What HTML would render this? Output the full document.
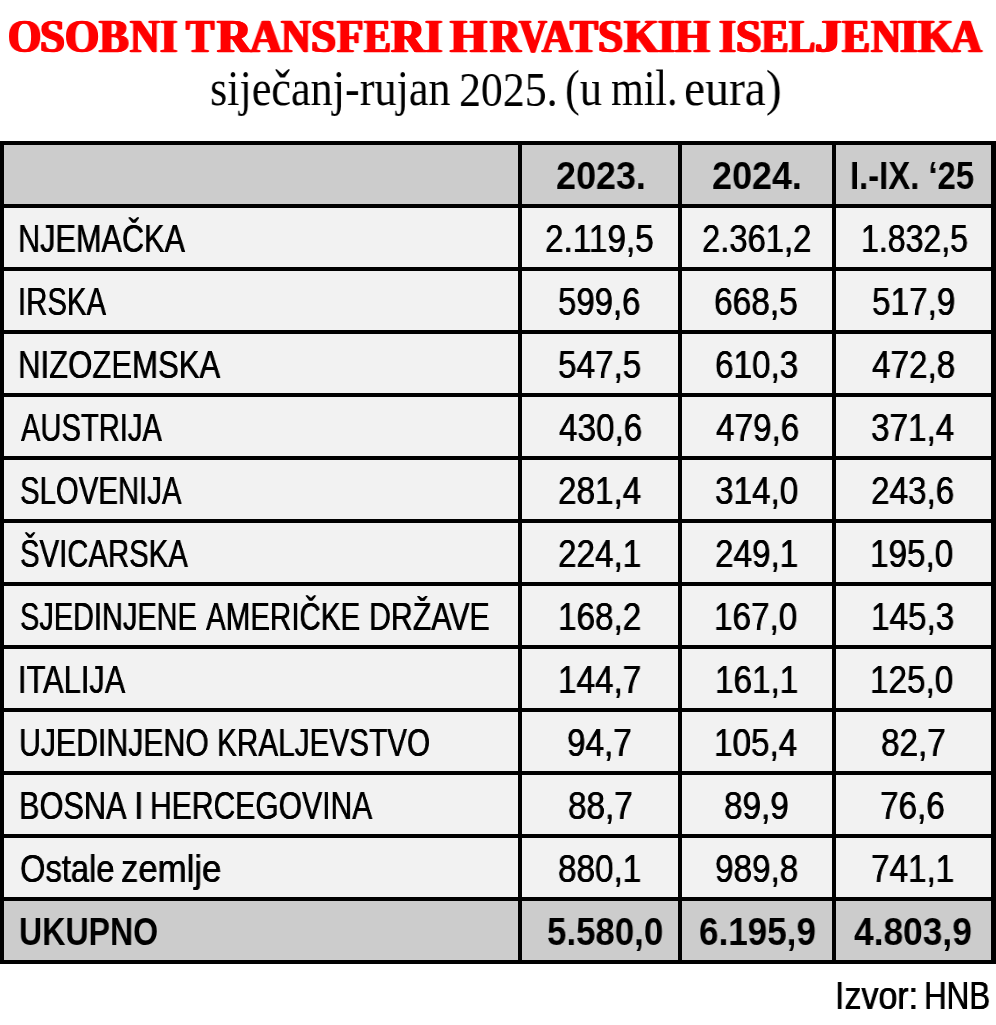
<!DOCTYPE html>
<html lang="hr"><head><meta charset="utf-8"><title>Osobni transferi hrvatskih iseljenika</title>
<style>
html,body{margin:0;padding:0;background:#fff;}
body{width:996px;height:1025px;position:relative;overflow:hidden;font-family:"Liberation Sans", sans-serif;}
.t{position:absolute;white-space:nowrap;transform-origin:0 0;display:block;margin:0;padding:0;will-change:transform;}
.c{position:absolute;}
#grid{position:absolute;left:0;top:141px;width:995.5px;height:823px;background:#000;}
</style></head><body>
<div id="grid"></div>
<div class="c" style="left:4px;top:145px;width:514px;height:59px;background:#cccccc"></div>
<div class="c" style="left:522px;top:145px;width:156px;height:59px;background:#cccccc"></div>
<div class="c" style="left:682px;top:145px;width:150px;height:59px;background:#cccccc"></div>
<div class="c" style="left:836px;top:145px;width:155px;height:59px;background:#cccccc"></div>
<div class="c" style="left:4px;top:208px;width:514px;height:59px;background:#f2f2f2"></div>
<div class="c" style="left:522px;top:208px;width:156px;height:59px;background:#f2f2f2"></div>
<div class="c" style="left:682px;top:208px;width:150px;height:59px;background:#f2f2f2"></div>
<div class="c" style="left:836px;top:208px;width:155px;height:59px;background:#f2f2f2"></div>
<div class="c" style="left:4px;top:271px;width:514px;height:59px;background:#f2f2f2"></div>
<div class="c" style="left:522px;top:271px;width:156px;height:59px;background:#f2f2f2"></div>
<div class="c" style="left:682px;top:271px;width:150px;height:59px;background:#f2f2f2"></div>
<div class="c" style="left:836px;top:271px;width:155px;height:59px;background:#f2f2f2"></div>
<div class="c" style="left:4px;top:334px;width:514px;height:59px;background:#f2f2f2"></div>
<div class="c" style="left:522px;top:334px;width:156px;height:59px;background:#f2f2f2"></div>
<div class="c" style="left:682px;top:334px;width:150px;height:59px;background:#f2f2f2"></div>
<div class="c" style="left:836px;top:334px;width:155px;height:59px;background:#f2f2f2"></div>
<div class="c" style="left:4px;top:397px;width:514px;height:59px;background:#f2f2f2"></div>
<div class="c" style="left:522px;top:397px;width:156px;height:59px;background:#f2f2f2"></div>
<div class="c" style="left:682px;top:397px;width:150px;height:59px;background:#f2f2f2"></div>
<div class="c" style="left:836px;top:397px;width:155px;height:59px;background:#f2f2f2"></div>
<div class="c" style="left:4px;top:460px;width:514px;height:59px;background:#f2f2f2"></div>
<div class="c" style="left:522px;top:460px;width:156px;height:59px;background:#f2f2f2"></div>
<div class="c" style="left:682px;top:460px;width:150px;height:59px;background:#f2f2f2"></div>
<div class="c" style="left:836px;top:460px;width:155px;height:59px;background:#f2f2f2"></div>
<div class="c" style="left:4px;top:523px;width:514px;height:59px;background:#f2f2f2"></div>
<div class="c" style="left:522px;top:523px;width:156px;height:59px;background:#f2f2f2"></div>
<div class="c" style="left:682px;top:523px;width:150px;height:59px;background:#f2f2f2"></div>
<div class="c" style="left:836px;top:523px;width:155px;height:59px;background:#f2f2f2"></div>
<div class="c" style="left:4px;top:586px;width:514px;height:59px;background:#f2f2f2"></div>
<div class="c" style="left:522px;top:586px;width:156px;height:59px;background:#f2f2f2"></div>
<div class="c" style="left:682px;top:586px;width:150px;height:59px;background:#f2f2f2"></div>
<div class="c" style="left:836px;top:586px;width:155px;height:59px;background:#f2f2f2"></div>
<div class="c" style="left:4px;top:649px;width:514px;height:59px;background:#f2f2f2"></div>
<div class="c" style="left:522px;top:649px;width:156px;height:59px;background:#f2f2f2"></div>
<div class="c" style="left:682px;top:649px;width:150px;height:59px;background:#f2f2f2"></div>
<div class="c" style="left:836px;top:649px;width:155px;height:59px;background:#f2f2f2"></div>
<div class="c" style="left:4px;top:712px;width:514px;height:59px;background:#f2f2f2"></div>
<div class="c" style="left:522px;top:712px;width:156px;height:59px;background:#f2f2f2"></div>
<div class="c" style="left:682px;top:712px;width:150px;height:59px;background:#f2f2f2"></div>
<div class="c" style="left:836px;top:712px;width:155px;height:59px;background:#f2f2f2"></div>
<div class="c" style="left:4px;top:775px;width:514px;height:59px;background:#f2f2f2"></div>
<div class="c" style="left:522px;top:775px;width:156px;height:59px;background:#f2f2f2"></div>
<div class="c" style="left:682px;top:775px;width:150px;height:59px;background:#f2f2f2"></div>
<div class="c" style="left:836px;top:775px;width:155px;height:59px;background:#f2f2f2"></div>
<div class="c" style="left:4px;top:838px;width:514px;height:59px;background:#f2f2f2"></div>
<div class="c" style="left:522px;top:838px;width:156px;height:59px;background:#f2f2f2"></div>
<div class="c" style="left:682px;top:838px;width:150px;height:59px;background:#f2f2f2"></div>
<div class="c" style="left:836px;top:838px;width:155px;height:59px;background:#f2f2f2"></div>
<div class="c" style="left:4px;top:901px;width:514px;height:59px;background:#cccccc"></div>
<div class="c" style="left:522px;top:901px;width:156px;height:59px;background:#cccccc"></div>
<div class="c" style="left:682px;top:901px;width:150px;height:59px;background:#cccccc"></div>
<div class="c" style="left:836px;top:901px;width:155px;height:59px;background:#cccccc"></div>
<div class="t" style="left:8.09px;top:14.16px;font-family:'Liberation Serif', serif;font-size:46.5px;line-height:46.5px;transform:scaleX(0.9197);color:#ff0000;font-weight:bold;-webkit-text-stroke:0.5px #ff0000;text-shadow:1.25px 0 0 #ff0000,-1.25px 0 0 #ff0000;">O</div>
<div class="t" style="left:40.23px;top:14.16px;font-family:'Liberation Serif', serif;font-size:46.5px;line-height:46.5px;transform:scaleX(0.9607);color:#ff0000;font-weight:bold;-webkit-text-stroke:0.5px #ff0000;text-shadow:1.25px 0 0 #ff0000,-1.25px 0 0 #ff0000;">S</div>
<div class="t" style="left:65.07px;top:14.16px;font-family:'Liberation Serif', serif;font-size:46.5px;line-height:46.5px;transform:scaleX(0.9412);color:#ff0000;font-weight:bold;-webkit-text-stroke:0.5px #ff0000;text-shadow:1.25px 0 0 #ff0000,-1.25px 0 0 #ff0000;">O</div>
<div class="t" style="left:99.31px;top:14.16px;font-family:'Liberation Serif', serif;font-size:46.5px;line-height:46.5px;transform:scaleX(0.9574);color:#ff0000;font-weight:bold;-webkit-text-stroke:0.5px #ff0000;text-shadow:1.25px 0 0 #ff0000,-1.25px 0 0 #ff0000;">B</div>
<div class="t" style="left:130.27px;top:14.16px;font-family:'Liberation Serif', serif;font-size:46.5px;line-height:46.5px;transform:scaleX(0.8808);color:#ff0000;font-weight:bold;-webkit-text-stroke:0.5px #ff0000;text-shadow:1.25px 0 0 #ff0000,-1.25px 0 0 #ff0000;">N</div>
<div class="t" style="left:159.65px;top:14.16px;font-family:'Liberation Serif', serif;font-size:46.5px;line-height:46.5px;transform:scaleX(0.9656);color:#ff0000;font-weight:bold;-webkit-text-stroke:0.5px #ff0000;text-shadow:1.25px 0 0 #ff0000,-1.25px 0 0 #ff0000;">I</div>
<div class="t" style="left:185.81px;top:14.16px;font-family:'Liberation Serif', serif;font-size:46.5px;line-height:46.5px;transform:scaleX(0.9105);color:#ff0000;font-weight:bold;-webkit-text-stroke:0.5px #ff0000;text-shadow:1.25px 0 0 #ff0000,-1.25px 0 0 #ff0000;">T</div>
<div class="t" style="left:216.85px;top:14.16px;font-family:'Liberation Serif', serif;font-size:46.5px;line-height:46.5px;transform:scaleX(1.0318);color:#ff0000;font-weight:bold;-webkit-text-stroke:0.5px #ff0000;text-shadow:1.25px 0 0 #ff0000,-1.25px 0 0 #ff0000;">R</div>
<div class="t" style="left:250.16px;top:14.16px;font-family:'Liberation Serif', serif;font-size:46.5px;line-height:46.5px;transform:scaleX(0.9467);color:#ff0000;font-weight:bold;-webkit-text-stroke:0.5px #ff0000;text-shadow:1.25px 0 0 #ff0000,-1.25px 0 0 #ff0000;">A</div>
<div class="t" style="left:280.83px;top:14.16px;font-family:'Liberation Serif', serif;font-size:46.5px;line-height:46.5px;transform:scaleX(0.8866);color:#ff0000;font-weight:bold;-webkit-text-stroke:0.5px #ff0000;text-shadow:1.25px 0 0 #ff0000,-1.25px 0 0 #ff0000;">N</div>
<div class="t" style="left:311.22px;top:14.16px;font-family:'Liberation Serif', serif;font-size:46.5px;line-height:46.5px;transform:scaleX(0.9691);color:#ff0000;font-weight:bold;-webkit-text-stroke:0.5px #ff0000;text-shadow:1.25px 0 0 #ff0000,-1.25px 0 0 #ff0000;">S</div>
<div class="t" style="left:337.31px;top:14.16px;font-family:'Liberation Serif', serif;font-size:46.5px;line-height:46.5px;transform:scaleX(0.9325);color:#ff0000;font-weight:bold;-webkit-text-stroke:0.5px #ff0000;text-shadow:1.25px 0 0 #ff0000,-1.25px 0 0 #ff0000;">F</div>
<div class="t" style="left:363.80px;top:14.16px;font-family:'Liberation Serif', serif;font-size:46.5px;line-height:46.5px;transform:scaleX(0.8689);color:#ff0000;font-weight:bold;-webkit-text-stroke:0.5px #ff0000;text-shadow:1.25px 0 0 #ff0000,-1.25px 0 0 #ff0000;">E</div>
<div class="t" style="left:391.34px;top:14.16px;font-family:'Liberation Serif', serif;font-size:46.5px;line-height:46.5px;transform:scaleX(1.0206);color:#ff0000;font-weight:bold;-webkit-text-stroke:0.5px #ff0000;text-shadow:1.25px 0 0 #ff0000,-1.25px 0 0 #ff0000;">R</div>
<div class="t" style="left:424.70px;top:14.16px;font-family:'Liberation Serif', serif;font-size:46.5px;line-height:46.5px;transform:scaleX(0.9656);color:#ff0000;font-weight:bold;-webkit-text-stroke:0.5px #ff0000;text-shadow:1.25px 0 0 #ff0000,-1.25px 0 0 #ff0000;">I</div>
<div class="t" style="left:450.35px;top:14.16px;font-family:'Liberation Serif', serif;font-size:46.5px;line-height:46.5px;transform:scaleX(1.0235);color:#ff0000;font-weight:bold;-webkit-text-stroke:0.5px #ff0000;text-shadow:1.25px 0 0 #ff0000,-1.25px 0 0 #ff0000;">H</div>
<div class="t" style="left:489.85px;top:14.16px;font-family:'Liberation Serif', serif;font-size:46.5px;line-height:46.5px;transform:scaleX(0.9159);color:#ff0000;font-weight:bold;-webkit-text-stroke:0.5px #ff0000;text-shadow:1.25px 0 0 #ff0000,-1.25px 0 0 #ff0000;">R</div>
<div class="t" style="left:519.14px;top:14.16px;font-family:'Liberation Serif', serif;font-size:46.5px;line-height:46.5px;transform:scaleX(0.8286);color:#ff0000;font-weight:bold;-webkit-text-stroke:0.5px #ff0000;text-shadow:1.25px 0 0 #ff0000,-1.25px 0 0 #ff0000;">V</div>
<div class="t" style="left:541.58px;top:14.16px;font-family:'Liberation Serif', serif;font-size:46.5px;line-height:46.5px;transform:scaleX(0.8991);color:#ff0000;font-weight:bold;-webkit-text-stroke:0.5px #ff0000;text-shadow:1.25px 0 0 #ff0000,-1.25px 0 0 #ff0000;">A</div>
<div class="t" style="left:569.85px;top:14.16px;font-family:'Liberation Serif', serif;font-size:46.5px;line-height:46.5px;transform:scaleX(0.9021);color:#ff0000;font-weight:bold;-webkit-text-stroke:0.5px #ff0000;text-shadow:1.25px 0 0 #ff0000,-1.25px 0 0 #ff0000;">T</div>
<div class="t" style="left:598.22px;top:14.16px;font-family:'Liberation Serif', serif;font-size:46.5px;line-height:46.5px;transform:scaleX(0.9718);color:#ff0000;font-weight:bold;-webkit-text-stroke:0.5px #ff0000;text-shadow:1.25px 0 0 #ff0000,-1.25px 0 0 #ff0000;">S</div>
<div class="t" style="left:623.84px;top:14.16px;font-family:'Liberation Serif', serif;font-size:46.5px;line-height:46.5px;transform:scaleX(0.9589);color:#ff0000;font-weight:bold;-webkit-text-stroke:0.5px #ff0000;text-shadow:1.25px 0 0 #ff0000,-1.25px 0 0 #ff0000;">K</div>
<div class="t" style="left:658.21px;top:14.16px;font-family:'Liberation Serif', serif;font-size:46.5px;line-height:46.5px;transform:scaleX(0.9425);color:#ff0000;font-weight:bold;-webkit-text-stroke:0.5px #ff0000;text-shadow:1.25px 0 0 #ff0000,-1.25px 0 0 #ff0000;">I</div>
<div class="t" style="left:674.84px;top:14.16px;font-family:'Liberation Serif', serif;font-size:46.5px;line-height:46.5px;transform:scaleX(0.9622);color:#ff0000;font-weight:bold;-webkit-text-stroke:0.5px #ff0000;text-shadow:1.25px 0 0 #ff0000,-1.25px 0 0 #ff0000;">H</div>
<div class="t" style="left:718.67px;top:14.16px;font-family:'Liberation Serif', serif;font-size:46.5px;line-height:46.5px;transform:scaleX(0.9386);color:#ff0000;font-weight:bold;-webkit-text-stroke:0.5px #ff0000;text-shadow:1.25px 0 0 #ff0000,-1.25px 0 0 #ff0000;">I</div>
<div class="t" style="left:735.69px;top:14.16px;font-family:'Liberation Serif', serif;font-size:46.5px;line-height:46.5px;transform:scaleX(0.9832);color:#ff0000;font-weight:bold;-webkit-text-stroke:0.5px #ff0000;text-shadow:1.25px 0 0 #ff0000,-1.25px 0 0 #ff0000;">S</div>
<div class="t" style="left:761.29px;top:14.16px;font-family:'Liberation Serif', serif;font-size:46.5px;line-height:46.5px;transform:scaleX(0.8892);color:#ff0000;font-weight:bold;-webkit-text-stroke:0.5px #ff0000;text-shadow:1.25px 0 0 #ff0000,-1.25px 0 0 #ff0000;">E</div>
<div class="t" style="left:788.83px;top:14.16px;font-family:'Liberation Serif', serif;font-size:46.5px;line-height:46.5px;transform:scaleX(0.8500);color:#ff0000;font-weight:bold;-webkit-text-stroke:0.5px #ff0000;text-shadow:1.25px 0 0 #ff0000,-1.25px 0 0 #ff0000;">L</div>
<div class="t" style="left:814.85px;top:14.16px;font-family:'Liberation Serif', serif;font-size:46.5px;line-height:46.5px;transform:scaleX(1.1254);color:#ff0000;font-weight:bold;-webkit-text-stroke:0.5px #ff0000;text-shadow:1.25px 0 0 #ff0000,-1.25px 0 0 #ff0000;">J</div>
<div class="t" style="left:842.32px;top:14.16px;font-family:'Liberation Serif', serif;font-size:46.5px;line-height:46.5px;transform:scaleX(0.9067);color:#ff0000;font-weight:bold;-webkit-text-stroke:0.5px #ff0000;text-shadow:1.25px 0 0 #ff0000,-1.25px 0 0 #ff0000;">E</div>
<div class="t" style="left:870.79px;top:14.16px;font-family:'Liberation Serif', serif;font-size:46.5px;line-height:46.5px;transform:scaleX(0.8981);color:#ff0000;font-weight:bold;-webkit-text-stroke:0.5px #ff0000;text-shadow:1.25px 0 0 #ff0000,-1.25px 0 0 #ff0000;">N</div>
<div class="t" style="left:899.66px;top:14.16px;font-family:'Liberation Serif', serif;font-size:46.5px;line-height:46.5px;transform:scaleX(0.9886);color:#ff0000;font-weight:bold;-webkit-text-stroke:0.5px #ff0000;text-shadow:1.25px 0 0 #ff0000,-1.25px 0 0 #ff0000;">I</div>
<div class="t" style="left:918.33px;top:14.16px;font-family:'Liberation Serif', serif;font-size:46.5px;line-height:46.5px;transform:scaleX(0.9750);color:#ff0000;font-weight:bold;-webkit-text-stroke:0.5px #ff0000;text-shadow:1.25px 0 0 #ff0000,-1.25px 0 0 #ff0000;">K</div>
<div class="t" style="left:951.14px;top:14.16px;font-family:'Liberation Serif', serif;font-size:46.5px;line-height:46.5px;transform:scaleX(0.9200);color:#ff0000;font-weight:bold;-webkit-text-stroke:0.5px #ff0000;text-shadow:1.25px 0 0 #ff0000,-1.25px 0 0 #ff0000;">A</div>
<div class="t" style="left:210.09px;top:63.47px;font-family:'Liberation Serif', serif;font-size:51px;line-height:51px;transform:scaleX(0.8667);color:#000;">siječanj-rujan</div>
<div class="t" style="left:458.51px;top:65.13px;font-family:'Liberation Serif', serif;font-size:49px;line-height:49px;transform:scaleX(0.8943);color:#000;">2025.</div>
<div class="t" style="left:564.57px;top:63.47px;font-family:'Liberation Serif', serif;font-size:51px;line-height:51px;transform:scaleX(0.8695);color:#000;">(u</div>
<div class="t" style="left:611.08px;top:63.47px;font-family:'Liberation Serif', serif;font-size:51px;line-height:51px;transform:scaleX(0.8240);color:#000;">mil.</div>
<div class="t" style="left:683.77px;top:63.47px;font-family:'Liberation Serif', serif;font-size:51px;line-height:51px;transform:scaleX(0.9331);color:#000;">eura)</div>
<div class="t" style="left:18.29px;top:219.50px;font-family:'Liberation Sans', sans-serif;font-size:38px;line-height:38px;transform:scaleX(0.8069);color:#000;text-shadow:0.35px 0 0 #000,-0.35px 0 0 #000;">NJEMAČKA</div>
<div class="t" style="left:18.08px;top:282.50px;font-family:'Liberation Sans', sans-serif;font-size:38px;line-height:38px;transform:scaleX(0.7725);color:#000;text-shadow:0.35px 0 0 #000,-0.35px 0 0 #000;">IRSKA</div>
<div class="t" style="left:18.26px;top:345.50px;font-family:'Liberation Sans', sans-serif;font-size:38px;line-height:38px;transform:scaleX(0.8187);color:#000;text-shadow:0.35px 0 0 #000,-0.35px 0 0 #000;">NIZOZEMSKA</div>
<div class="t" style="left:20.81px;top:408.50px;font-family:'Liberation Sans', sans-serif;font-size:38px;line-height:38px;transform:scaleX(0.7668);color:#000;text-shadow:0.35px 0 0 #000,-0.35px 0 0 #000;">AUSTRIJA</div>
<div class="t" style="left:20.30px;top:471.50px;font-family:'Liberation Sans', sans-serif;font-size:38px;line-height:38px;transform:scaleX(0.7724);color:#000;text-shadow:0.35px 0 0 #000,-0.35px 0 0 #000;">SLOVENIJA</div>
<div class="t" style="left:20.30px;top:534.50px;font-family:'Liberation Sans', sans-serif;font-size:38px;line-height:38px;transform:scaleX(0.7716);color:#000;text-shadow:0.35px 0 0 #000,-0.35px 0 0 #000;">ŠVICARSKA</div>
<div class="t" style="left:19.85px;top:597.50px;font-family:'Liberation Sans', sans-serif;font-size:38px;line-height:38px;transform:scaleX(0.7614);color:#000;text-shadow:0.35px 0 0 #000,-0.35px 0 0 #000;">SJEDINJENE</div>
<div class="t" style="left:206.34px;top:597.50px;font-family:'Liberation Sans', sans-serif;font-size:38px;line-height:38px;transform:scaleX(0.7765);color:#000;text-shadow:0.35px 0 0 #000,-0.35px 0 0 #000;">AMERIČKE</div>
<div class="t" style="left:368.83px;top:597.50px;font-family:'Liberation Sans', sans-serif;font-size:38px;line-height:38px;transform:scaleX(0.7976);color:#000;text-shadow:0.35px 0 0 #000,-0.35px 0 0 #000;">DRŽAVE</div>
<div class="t" style="left:17.96px;top:660.50px;font-family:'Liberation Sans', sans-serif;font-size:38px;line-height:38px;transform:scaleX(0.8109);color:#000;text-shadow:0.35px 0 0 #000,-0.35px 0 0 #000;">ITALIJA</div>
<div class="t" style="left:19.14px;top:723.50px;font-family:'Liberation Sans', sans-serif;font-size:38px;line-height:38px;transform:scaleX(0.7955);color:#000;text-shadow:0.35px 0 0 #000,-0.35px 0 0 #000;">UJEDINJENO</div>
<div class="t" style="left:216.88px;top:723.50px;font-family:'Liberation Sans', sans-serif;font-size:38px;line-height:38px;transform:scaleX(0.7824);color:#000;text-shadow:0.35px 0 0 #000,-0.35px 0 0 #000;">KRALJEVSTVO</div>
<div class="t" style="left:18.79px;top:786.50px;font-family:'Liberation Sans', sans-serif;font-size:38px;line-height:38px;transform:scaleX(0.8081);color:#000;text-shadow:0.35px 0 0 #000,-0.35px 0 0 #000;">BOSNA</div>
<div class="t" style="left:134.09px;top:786.50px;font-family:'Liberation Sans', sans-serif;font-size:38px;line-height:38px;transform:scaleX(0.9273);color:#000;text-shadow:0.35px 0 0 #000,-0.35px 0 0 #000;">I</div>
<div class="t" style="left:150.35px;top:786.50px;font-family:'Liberation Sans', sans-serif;font-size:38px;line-height:38px;transform:scaleX(0.7913);color:#000;text-shadow:0.35px 0 0 #000,-0.35px 0 0 #000;">HERCEGOVINA</div>
<div class="t" style="left:19.64px;top:849.50px;font-family:'Liberation Sans', sans-serif;font-size:38px;line-height:38px;transform:scaleX(0.8606);color:#000;text-shadow:0.35px 0 0 #000,-0.35px 0 0 #000;">Ostale</div>
<div class="t" style="left:121.42px;top:849.50px;font-family:'Liberation Sans', sans-serif;font-size:38px;line-height:38px;transform:scaleX(0.9139);color:#000;text-shadow:0.35px 0 0 #000,-0.35px 0 0 #000;">zemlje</div>
<div class="t" style="left:18.51px;top:912.50px;font-family:'Liberation Sans', sans-serif;font-size:38px;line-height:38px;transform:scaleX(0.8450);color:#000;font-weight:bold;">UKUPNO</div>
<div class="t" style="left:556.42px;top:156.50px;font-family:'Liberation Sans', sans-serif;font-size:38px;line-height:38px;transform:scaleX(0.9449);color:#000;font-weight:bold;">2023.</div>
<div class="t" style="left:711.84px;top:156.50px;font-family:'Liberation Sans', sans-serif;font-size:38px;line-height:38px;transform:scaleX(0.9449);color:#000;font-weight:bold;">2024.</div>
<div class="t" style="left:849.97px;top:156.50px;font-family:'Liberation Sans', sans-serif;font-size:38px;line-height:38px;transform:scaleX(0.8643);color:#000;font-weight:bold;">I.-IX. ‘25</div>
<div class="t" style="left:545.11px;top:219.50px;font-family:'Liberation Sans', sans-serif;font-size:38px;line-height:38px;transform:scaleX(0.8770);color:#000;text-shadow:0.35px 0 0 #000,-0.35px 0 0 #000;">2.119,5</div>
<div class="t" style="left:701.65px;top:219.50px;font-family:'Liberation Sans', sans-serif;font-size:38px;line-height:38px;transform:scaleX(0.8624);color:#000;text-shadow:0.35px 0 0 #000,-0.35px 0 0 #000;">2.361,2</div>
<div class="t" style="left:861.02px;top:219.50px;font-family:'Liberation Sans', sans-serif;font-size:38px;line-height:38px;transform:scaleX(0.8440);color:#000;text-shadow:0.35px 0 0 #000,-0.35px 0 0 #000;">1.832,5</div>
<div class="t" style="left:557.98px;top:282.50px;font-family:'Liberation Sans', sans-serif;font-size:38px;line-height:38px;transform:scaleX(0.8666);color:#000;text-shadow:0.35px 0 0 #000,-0.35px 0 0 #000;">599,6</div>
<div class="t" style="left:713.62px;top:282.50px;font-family:'Liberation Sans', sans-serif;font-size:38px;line-height:38px;transform:scaleX(0.8811);color:#000;text-shadow:0.35px 0 0 #000,-0.35px 0 0 #000;">668,5</div>
<div class="t" style="left:871.96px;top:282.50px;font-family:'Liberation Sans', sans-serif;font-size:38px;line-height:38px;transform:scaleX(0.8767);color:#000;text-shadow:0.35px 0 0 #000,-0.35px 0 0 #000;">517,9</div>
<div class="t" style="left:558.02px;top:345.50px;font-family:'Liberation Sans', sans-serif;font-size:38px;line-height:38px;transform:scaleX(0.8757);color:#000;text-shadow:0.35px 0 0 #000,-0.35px 0 0 #000;">547,5</div>
<div class="t" style="left:715.02px;top:345.50px;font-family:'Liberation Sans', sans-serif;font-size:38px;line-height:38px;transform:scaleX(0.8757);color:#000;text-shadow:0.35px 0 0 #000,-0.35px 0 0 #000;">610,3</div>
<div class="t" style="left:871.52px;top:345.50px;font-family:'Liberation Sans', sans-serif;font-size:38px;line-height:38px;transform:scaleX(0.8757);color:#000;text-shadow:0.35px 0 0 #000,-0.35px 0 0 #000;">472,8</div>
<div class="t" style="left:558.51px;top:408.50px;font-family:'Liberation Sans', sans-serif;font-size:38px;line-height:38px;transform:scaleX(0.8757);color:#000;text-shadow:0.35px 0 0 #000,-0.35px 0 0 #000;">430,6</div>
<div class="t" style="left:715.51px;top:408.50px;font-family:'Liberation Sans', sans-serif;font-size:38px;line-height:38px;transform:scaleX(0.8757);color:#000;text-shadow:0.35px 0 0 #000,-0.35px 0 0 #000;">479,6</div>
<div class="t" style="left:870.87px;top:408.50px;font-family:'Liberation Sans', sans-serif;font-size:38px;line-height:38px;transform:scaleX(0.8757);color:#000;text-shadow:0.35px 0 0 #000,-0.35px 0 0 #000;">371,4</div>
<div class="t" style="left:557.70px;top:471.50px;font-family:'Liberation Sans', sans-serif;font-size:38px;line-height:38px;transform:scaleX(0.8757);color:#000;text-shadow:0.35px 0 0 #000,-0.35px 0 0 #000;">281,4</div>
<div class="t" style="left:715.02px;top:471.50px;font-family:'Liberation Sans', sans-serif;font-size:38px;line-height:38px;transform:scaleX(0.8757);color:#000;text-shadow:0.35px 0 0 #000,-0.35px 0 0 #000;">314,0</div>
<div class="t" style="left:871.03px;top:471.50px;font-family:'Liberation Sans', sans-serif;font-size:38px;line-height:38px;transform:scaleX(0.8757);color:#000;text-shadow:0.35px 0 0 #000,-0.35px 0 0 #000;">243,6</div>
<div class="t" style="left:558.02px;top:534.50px;font-family:'Liberation Sans', sans-serif;font-size:38px;line-height:38px;transform:scaleX(0.8757);color:#000;text-shadow:0.35px 0 0 #000,-0.35px 0 0 #000;">224,1</div>
<div class="t" style="left:715.02px;top:534.50px;font-family:'Liberation Sans', sans-serif;font-size:38px;line-height:38px;transform:scaleX(0.8757);color:#000;text-shadow:0.35px 0 0 #000,-0.35px 0 0 #000;">249,1</div>
<div class="t" style="left:870.39px;top:534.50px;font-family:'Liberation Sans', sans-serif;font-size:38px;line-height:38px;transform:scaleX(0.8757);color:#000;text-shadow:0.35px 0 0 #000,-0.35px 0 0 #000;">195,0</div>
<div class="t" style="left:557.53px;top:597.50px;font-family:'Liberation Sans', sans-serif;font-size:38px;line-height:38px;transform:scaleX(0.8757);color:#000;text-shadow:0.35px 0 0 #000,-0.35px 0 0 #000;">168,2</div>
<div class="t" style="left:714.37px;top:597.50px;font-family:'Liberation Sans', sans-serif;font-size:38px;line-height:38px;transform:scaleX(0.8757);color:#000;text-shadow:0.35px 0 0 #000,-0.35px 0 0 #000;">167,0</div>
<div class="t" style="left:870.55px;top:597.50px;font-family:'Liberation Sans', sans-serif;font-size:38px;line-height:38px;transform:scaleX(0.8757);color:#000;text-shadow:0.35px 0 0 #000,-0.35px 0 0 #000;">145,3</div>
<div class="t" style="left:557.53px;top:660.50px;font-family:'Liberation Sans', sans-serif;font-size:38px;line-height:38px;transform:scaleX(0.8757);color:#000;text-shadow:0.35px 0 0 #000,-0.35px 0 0 #000;">144,7</div>
<div class="t" style="left:714.53px;top:660.50px;font-family:'Liberation Sans', sans-serif;font-size:38px;line-height:38px;transform:scaleX(0.8757);color:#000;text-shadow:0.35px 0 0 #000,-0.35px 0 0 #000;">161,1</div>
<div class="t" style="left:870.39px;top:660.50px;font-family:'Liberation Sans', sans-serif;font-size:38px;line-height:38px;transform:scaleX(0.8757);color:#000;text-shadow:0.35px 0 0 #000,-0.35px 0 0 #000;">125,0</div>
<div class="t" style="left:567.43px;top:723.50px;font-family:'Liberation Sans', sans-serif;font-size:38px;line-height:38px;transform:scaleX(0.8757);color:#000;text-shadow:0.35px 0 0 #000,-0.35px 0 0 #000;">94,7</div>
<div class="t" style="left:714.21px;top:723.50px;font-family:'Liberation Sans', sans-serif;font-size:38px;line-height:38px;transform:scaleX(0.8757);color:#000;text-shadow:0.35px 0 0 #000,-0.35px 0 0 #000;">105,4</div>
<div class="t" style="left:880.60px;top:723.50px;font-family:'Liberation Sans', sans-serif;font-size:38px;line-height:38px;transform:scaleX(0.8757);color:#000;text-shadow:0.35px 0 0 #000,-0.35px 0 0 #000;">82,7</div>
<div class="t" style="left:567.59px;top:786.50px;font-family:'Liberation Sans', sans-serif;font-size:38px;line-height:38px;transform:scaleX(0.8757);color:#000;text-shadow:0.35px 0 0 #000,-0.35px 0 0 #000;">88,7</div>
<div class="t" style="left:724.43px;top:786.50px;font-family:'Liberation Sans', sans-serif;font-size:38px;line-height:38px;transform:scaleX(0.8757);color:#000;text-shadow:0.35px 0 0 #000,-0.35px 0 0 #000;">89,9</div>
<div class="t" style="left:880.28px;top:786.50px;font-family:'Liberation Sans', sans-serif;font-size:38px;line-height:38px;transform:scaleX(0.8757);color:#000;text-shadow:0.35px 0 0 #000,-0.35px 0 0 #000;">76,6</div>
<div class="t" style="left:558.18px;top:849.50px;font-family:'Liberation Sans', sans-serif;font-size:38px;line-height:38px;transform:scaleX(0.8757);color:#000;text-shadow:0.35px 0 0 #000,-0.35px 0 0 #000;">880,1</div>
<div class="t" style="left:715.02px;top:849.50px;font-family:'Liberation Sans', sans-serif;font-size:38px;line-height:38px;transform:scaleX(0.8757);color:#000;text-shadow:0.35px 0 0 #000,-0.35px 0 0 #000;">989,8</div>
<div class="t" style="left:871.03px;top:849.50px;font-family:'Liberation Sans', sans-serif;font-size:38px;line-height:38px;transform:scaleX(0.8757);color:#000;text-shadow:0.35px 0 0 #000,-0.35px 0 0 #000;">741,1</div>
<div class="t" style="left:546.92px;top:912.50px;font-family:'Liberation Sans', sans-serif;font-size:38px;line-height:38px;transform:scaleX(0.9167);color:#000;font-weight:bold;">5.580,0</div>
<div class="t" style="left:698.57px;top:912.50px;font-family:'Liberation Sans', sans-serif;font-size:38px;line-height:38px;transform:scaleX(0.9221);color:#000;font-weight:bold;">6.195,9</div>
<div class="t" style="left:854.14px;top:912.50px;font-family:'Liberation Sans', sans-serif;font-size:38px;line-height:38px;transform:scaleX(0.9294);color:#000;font-weight:bold;">4.803,9</div>
<div class="t" style="left:834.70px;top:977.40px;font-family:'Liberation Sans', sans-serif;font-size:38px;line-height:38px;transform:scaleX(0.8939);color:#000;text-shadow:0.35px 0 0 #000,-0.35px 0 0 #000;">Izvor:</div>
<div class="t" style="left:923.73px;top:977.40px;font-family:'Liberation Sans', sans-serif;font-size:38px;line-height:38px;transform:scaleX(0.8245);color:#000;text-shadow:0.35px 0 0 #000,-0.35px 0 0 #000;">HNB</div>
</body></html>
